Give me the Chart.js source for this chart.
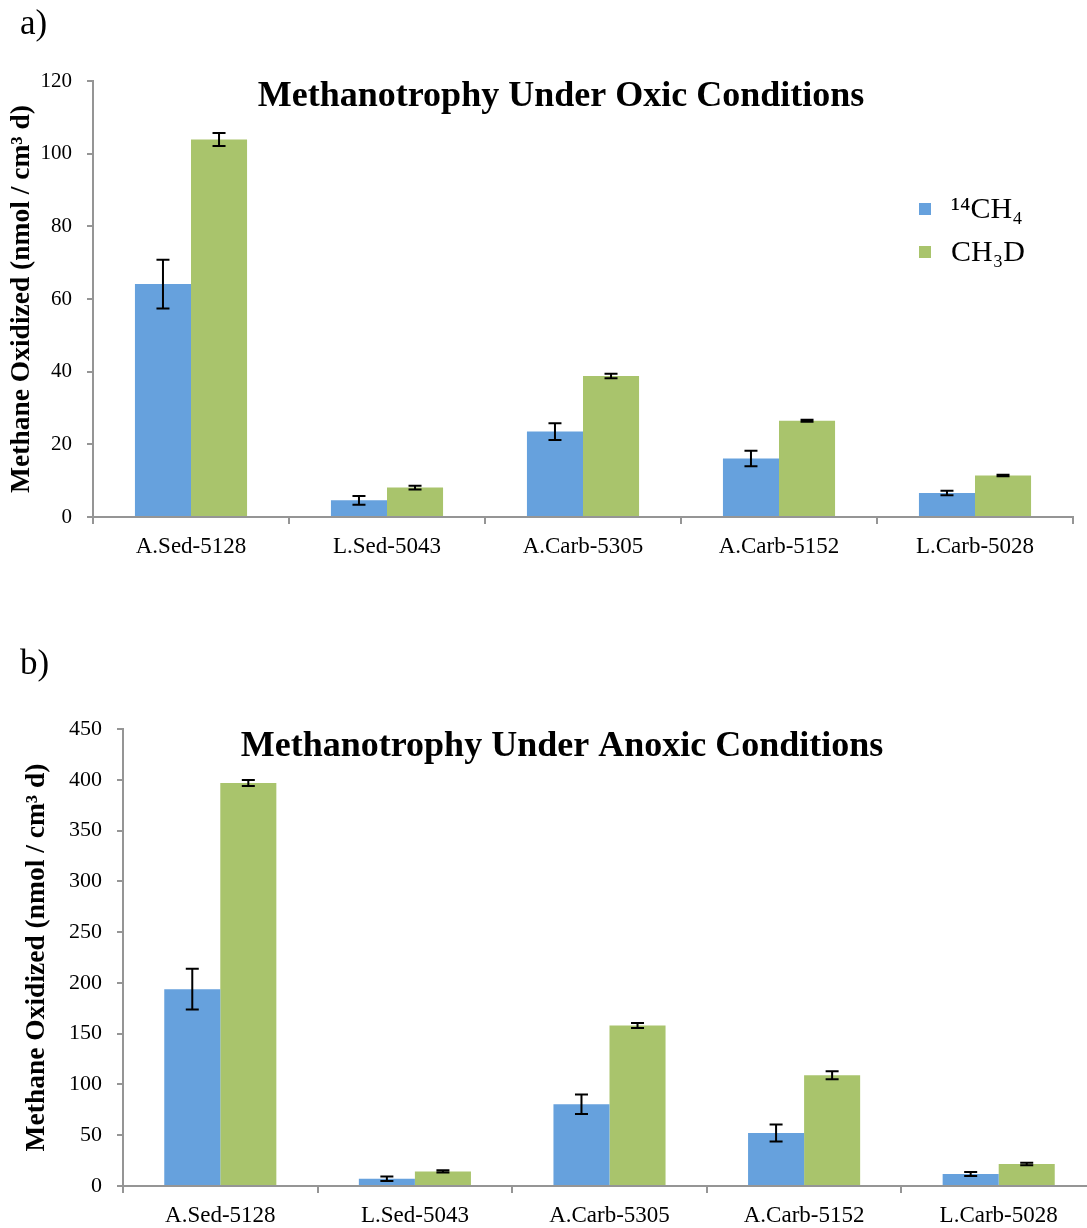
<!DOCTYPE html>
<html>
<head>
<meta charset="utf-8">
<script src="https://cdn.jsdelivr.net/npm/chart.js@4.4.1/dist/chart.umd.min.js"></script>
<style>
  body { margin: 0; background: #fff; width: 1087px; height: 1228px; position: relative; overflow: hidden; }
  canvas { position: absolute; left: 0; }
  #chartA { top: 0; }
  #chartB { top: 640px; }
  .panel { position: absolute; left: 20px; font: 35px "Liberation Serif", serif; color: #000; z-index: 2; }
</style>
</head>
<body>
<div class="panel" style="top:3px">a)</div>
<div class="panel" style="top:643px">b)</div>
<canvas id="chartA" width="1087" height="577"></canvas>
<canvas id="chartB" width="1100" height="588"></canvas>
<script>
// data
const categories = ['A.Sed-5128', 'L.Sed-5043', 'A.Carb-5305', 'A.Carb-5152', 'L.Carb-5028'];
const seriesNames = ['\u00B9\u2074CH\u2084', 'CH\u2083D'];

const oxicCH4 = [64.1, 4.6, 23.5, 16.1, 6.6];
const oxicCH4Err = [6.7, 1.2, 2.3, 2.1, 0.6];
const oxicCH3D = [103.9, 8.1, 38.8, 26.5, 11.4];
const oxicCH3DErr = [1.8, 0.5, 0.6, 0.3, 0.2];

const anoxicCH4 = [193.8, 7.2, 80.5, 52.2, 11.8];
const anoxicCH4Err = [20, 2.2, 9.5, 8.3, 2.0];
const anoxicCH3D = [396.8, 14.4, 158, 109, 21.7];
const anoxicCH3DErr = [3, 1.0, 2.5, 4, 1.2];

const oxicTicks = { max: 120, step: 20 };
const anoxicTicks = { max: 450, step: 50 };

const BLUE = '#66a1dd';
const GREEN = '#a9c46c';
const AXIS = '#959595';
const SERIF = '"Liberation Serif", "Times New Roman", serif';

// error bars
const errorBars = {
  id: 'errorBars',
  afterDatasetsDraw(chart) {
    const ctx = chart.ctx;
    const y = chart.scales.y;
    ctx.save();
    ctx.strokeStyle = '#000';
    ctx.lineWidth = 2;
    chart.data.datasets.forEach((ds, i) => {
      if (!ds.errors) return;
      chart.getDatasetMeta(i).data.forEach((bar, j) => {
        const v = ds.data[j], e = ds.errors[j];
        const top = y.getPixelForValue(v + e);
        const bot = y.getPixelForValue(v - e);
        ctx.beginPath();
        ctx.moveTo(bar.x, top); ctx.lineTo(bar.x, bot);
        ctx.moveTo(bar.x - 6.5, top); ctx.lineTo(bar.x + 6.5, top);
        ctx.moveTo(bar.x - 6.5, bot); ctx.lineTo(bar.x + 6.5, bot);
        ctx.stroke();
      });
    });
    ctx.restore();
  }
};

// title + legend drawn inside the plot area like the original
const overlay = {
  id: 'overlay',
  afterDraw(chart, args, opts) {
    const ctx = chart.ctx;
    ctx.save();
    ctx.fillStyle = '#000';
    ctx.font = 'bold 36px ' + SERIF;
    ctx.textAlign = 'center';
    ctx.textBaseline = 'middle';
    ctx.fillText(opts.text, opts.titleX, opts.titleY);
    if (opts.legend) {
      ctx.font = '30px ' + SERIF;
      ctx.textAlign = 'left';
      ctx.textBaseline = 'alphabetic';
      chart.data.datasets.forEach((ds, i) => {
        const ly = opts.legendY + i * 43;
        ctx.fillStyle = ds.backgroundColor;
        ctx.fillRect(opts.legendX, ly, 12, 12);
        ctx.fillStyle = '#000';
        ctx.fillText(ds.label, opts.legendX + 32, ly + 15);
      });
    }
    ctx.restore();
  }
};

function makeChart(id, s1, e1, s2, e2, ticks, o) {
  return new Chart(document.getElementById(id), {
    type: 'bar',
    data: {
      labels: categories,
      datasets: [
        { label: seriesNames[0], data: s1, errors: e1, backgroundColor: BLUE, borderWidth: 0 },
        { label: seriesNames[1], data: s2, errors: e2, backgroundColor: GREEN, borderWidth: 0 }
      ]
    },
    options: {
      responsive: false,
      animation: false,
      devicePixelRatio: 1,
      layout: { padding: { top: o.top, right: o.right, left: 0, bottom: 0 } },
      datasets: { bar: { categoryPercentage: o.catPct, barPercentage: 1.0 } },
      plugins: {
        legend: { display: false },
        tooltip: { enabled: false },
        overlay: o.overlay
      },
      scales: {
        x: {
          grid: { drawOnChartArea: false, drawTicks: true, tickLength: 7, color: AXIS, lineWidth: 2, offset: true },
          border: { color: AXIS, width: 2 },
          ticks: { color: '#000', font: { family: SERIF, size: 23 }, padding: 9, maxRotation: 0 },
          afterFit: s => { s.height = o.xHeight; }
        },
        y: {
          min: 0, max: ticks.max,
          ticks: { stepSize: ticks.step, color: '#000', font: { family: SERIF, size: o.yTickSize }, padding: 15 },
          grid: { drawOnChartArea: false, drawTicks: true, tickLength: 6, color: AXIS, lineWidth: 2 },
          border: { color: AXIS, width: 2 },
          title: {
            display: true, text: 'Methane Oxidized (nmol / cm\u00B3 d)', color: '#000',
            font: { family: SERIF, size: 27.5, weight: 'bold' }, padding: { top: o.titlePad, bottom: 0 }
          },
          afterFit: s => { s.width = o.yWidth; }
        }
      }
    },
    plugins: [errorBars, overlay]
  });
}

makeChart('chartA', oxicCH4, oxicCH4Err, oxicCH3D, oxicCH3DErr, oxicTicks, {
  top: 81, right: 14, xHeight: 60, yWidth: 93, yTickSize: 21, titlePad: 5, catPct: 0.572,
  overlay: { text: 'Methanotrophy Under Oxic Conditions', titleX: 561, titleY: 97, legend: true, legendX: 919, legendY: 203 }
});

makeChart('chartB', anoxicCH4, anoxicCH4Err, anoxicCH3D, anoxicCH3DErr, anoxicTicks, {
  top: 89, right: 4, xHeight: 42, yWidth: 123, yTickSize: 22, titlePad: 20, catPct: 0.576,
  overlay: { text: 'Methanotrophy Under Anoxic Conditions', titleX: 562, titleY: 107, legend: false }
});
</script>
</body>
</html>
